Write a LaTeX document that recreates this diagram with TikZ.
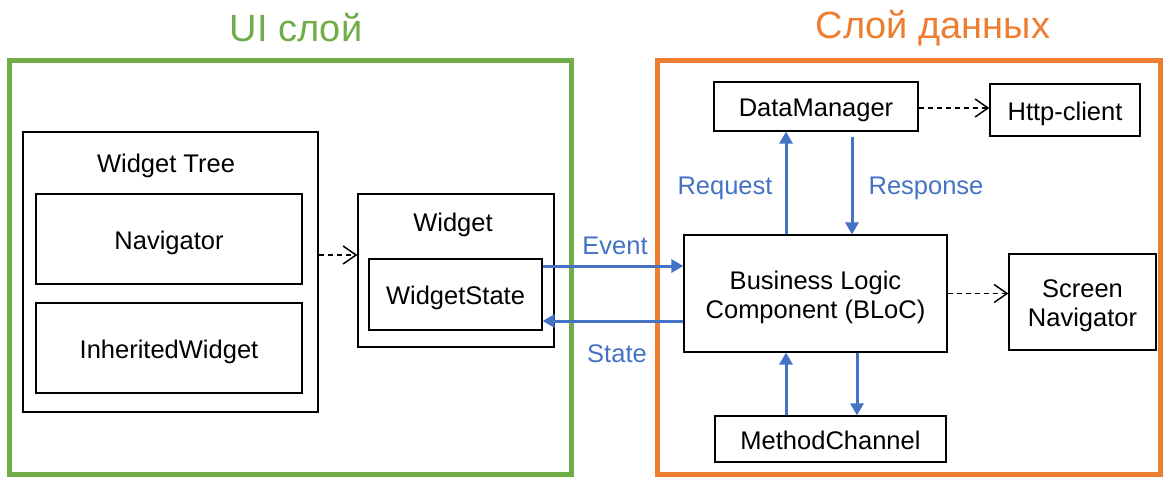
\documentclass[tikz,border=0pt]{standalone}
\usepackage{fontspec}
\setmainfont{Liberation Sans}
\usetikzlibrary{arrows.meta}
\definecolor{uigreen}{HTML}{70AD47}
\definecolor{dataorange}{HTML}{ED7D31}
\definecolor{flowblue}{HTML}{4472C4}
\tikzset{
  txt/.style={inner sep=0pt, font=\fontsize{25.5}{29}\selectfont, text height=20pt, text depth=0pt},
  mtxt/.style={inner sep=0pt, font=\fontsize{25.5}{29}\selectfont, align=center, yshift=-4pt},
  box/.style={draw, line width=1.2pt, inner sep=0pt, font=\fontsize{25.5}{29}\selectfont, text height=20pt, text depth=0pt},
  frame/.style={line width=5pt},
  title/.style={inner sep=0pt, font=\fontsize{38}{44}\selectfont},
  bluearrow/.style={draw=flowblue, line width=3pt, -{Triangle[length=12pt,width=13pt]}},
  dasharrow/.style={line width=1.3pt, dash pattern=on 5pt off 4pt, -{Straight Barb[length=13pt,width=18pt,line width=1.5pt]}},
  bluelabel/.style={txt, text=flowblue}
}
\begin{document}
\begin{tikzpicture}[x=1pt,y=-1pt]
\useasboundingbox (0,0) rectangle (1163,477);
% frames
\draw[frame, draw=uigreen] (9,60) rectangle (571,474);
\draw[frame, draw=dataorange] (657,60) rectangle (1160,474);
\node[title, text=uigreen] (uititle) at (296,28) {UI слой};
\node[title, text=dataorange] (datatitle) at (933,28) {Слой данных};
% UI layer
\node[box, minimum width=295pt, minimum height=280pt] (wt) at (170.5,272) {};
\node[txt] (wtlabel) at (166,162) {Widget Tree};
\node[box, minimum width=266pt, minimum height=90pt] (nav) at (169,239) {Navigator};
\node[box, minimum width=266pt, minimum height=90pt] (inh) at (169,348) {InheritedWidget};
\node[box, minimum width=196pt, minimum height=153pt] (wd) at (456,270.5) {};
\node[txt] (wdlabel) at (453,221) {Widget};
\node[box, minimum width=173pt, minimum height=71pt] (ws) at (455.5,294.5) {WidgetState};
% data layer
\node[box, minimum width=263pt, minimum height=117pt] (bloc) at (815.5,293.5) {};
\node[mtxt] (bloctext) at (bloc.center) {Business Logic\\Component (BLoC)};
\node[box, minimum width=204pt, minimum height=49pt] (dm) at (816,106.5) {DataManager};
\node[box, minimum width=150pt, minimum height=52pt] (http) at (1065,110) {Http-client};
\node[box, minimum width=147pt, minimum height=96pt] (sn) at (1082.5,302) {};
\node[mtxt] (sntext) at (sn.center) {Screen\\Navigator};
\node[box, minimum width=231pt, minimum height=46pt] (mc) at (830.5,439) {MethodChannel};
% helper coordinates
\coordinate (evy) at (600,266);
\coordinate (sty) at (600,321);
\coordinate (wty) at (330,255);
\coordinate (dmy) at (950,108);
\coordinate (reqx) at (786,200);
\coordinate (resx) at (852,200);
\coordinate (upx) at (786,400);
\coordinate (dnx) at (857,400);
% dashed arrows
\draw[dasharrow] (wt.east |- wty) -- (wd.west |- wty);
\draw[dasharrow] (dm.east |- dmy) -- (http.west |- dmy);
\draw[dasharrow] (bloc.east) -- (sn.west |- bloc.east);
% blue arrows
\draw[bluearrow] (ws.east |- evy) -- (bloc.west |- evy);
\draw[bluearrow] (bloc.west |- sty) -- (ws.east |- sty);
\draw[bluearrow] (bloc.north -| reqx) -- (dm.south -| reqx);
\draw[bluearrow] ([yshift=-5pt]dm.south -| resx) -- (bloc.north -| resx);
\draw[bluearrow] (mc.north -| upx) -- (bloc.south -| upx);
\draw[bluearrow] (bloc.south -| dnx) -- (mc.north -| dnx);
% labels
\node[bluelabel] (evlabel) at (615,244) {Event};
\node[bluelabel] (stlabel) at (617,352) {State};
\node[bluelabel] (reqlabel) at (725,184) {Request};
\node[bluelabel] (reslabel) at (926,184) {Response};
\end{tikzpicture}
\end{document}
